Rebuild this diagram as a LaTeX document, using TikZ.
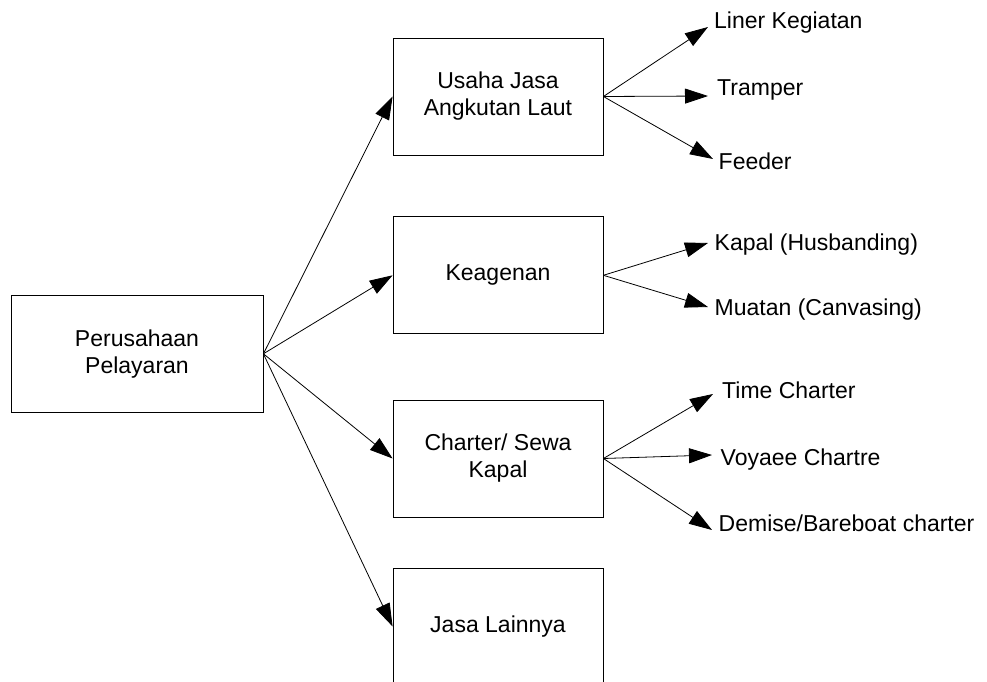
\documentclass[tikz,border=0pt]{standalone}
\usepackage{fontspec}
\setmainfont{Liberation Sans}
\usetikzlibrary{positioning, calc, arrows.meta}

\begin{document}
\begin{tikzpicture}[x=1bp, y=-1bp, font=\fontsize{23bp}{27bp}\selectfont,
  box/.style={draw, line width=0.8bp, align=center, inner sep=0pt, minimum width=210bp, minimum height=117bp},
  leaf/.style={inner sep=0pt, anchor=base west},
  arrow/.style={-{Triangle[length=23bp, width=15bp]}, line width=0.8bp}]
  \clip (0,0) rectangle (987,682);

  % kotak utama
  \node[box, minimum width=252bp] (root) at (137,353.8) {Perusahaan\\Pelayaran};
  \node[box] (usaha) at (498,96.5) {Usaha Jasa\\Angkutan Laut};
  \node[box] (agen) at (498,275.3) {Keagenan};
  \node[box] (charter) at (498,458.5) {Charter/ Sewa\\Kapal};
  \node[box] (lain) at (498,626.5) {Jasa Lainnya};

  % cabang
  \node[leaf] (liner) at (714,29) {Liner Kegiatan};
  \node[leaf] (tramper) at (717,96) {Tramper};
  \node[leaf] (feeder) at (718.5,170) {Feeder};
  \node[leaf] (kapal) at (714.5,250.7) {Kapal (Husbanding)};
  \node[leaf] (muatan) at (714.5,315) {Muatan (Canvasing)};
  \node[leaf] (time) at (722,398.3) {Time Charter};
  \node[leaf] (voyage) at (720.5,465) {Voyaee Chartre};
  \node[leaf] (demise) at (718.5,531.7) {Demise/Bareboat charter};

  \draw[arrow] (root.east) -- (usaha.west);
  \draw[arrow] (root.east) -- (agen.west);
  \draw[arrow] (root.east) -- (charter.west);
  \draw[arrow] (root.east) -- (lain.west);

  \draw[arrow] (usaha.east) -- ($(liner.base west)+(-6,-2)$);
  \draw[arrow] (usaha.east) -- ($(tramper.base west)+(-9,0)$);
  \draw[arrow] (usaha.east) -- ($(feeder.base west)+(-5.5,-11)$);
  \draw[arrow] (agen.east) -- ($(kapal.base west)+(-6.5,-7.7)$);
  \draw[arrow] (agen.east) -- ($(muatan.base west)+(-6.5,-8)$);
  \draw[arrow] (charter.east) -- ($(time.base west)+(-9,-4.3)$);
  \draw[arrow] (charter.east) -- ($(voyage.base west)+(-8.5,-10)$);
  \draw[arrow] (charter.east) -- ($(demise.base west)+(-6.5,-1.7)$);
\end{tikzpicture}
\end{document}
